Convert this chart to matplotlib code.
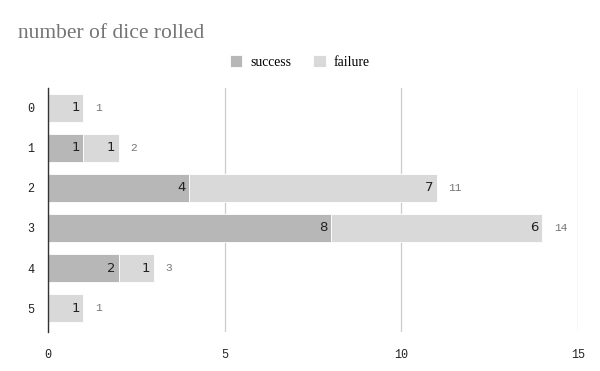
import numpy as np
import matplotlib
matplotlib.use('Agg')
import matplotlib.pyplot as plt

# data
categories = ['0', '1', '2', '3', '4', '5']
success = [0, 1, 4, 8, 2, 0]
failure = [1, 1, 7, 6, 1, 1]
xticks = [0, 5, 10, 15]

c_success = '#b7b7b7'
c_failure = '#d9d9d9'

fig = plt.figure(figsize=(6, 3.71), dpi=100)
ax = fig.add_axes([0.08, 0.105, 0.883, 0.658])

y = np.arange(len(categories))
succ = np.array(success)
fail = np.array(failure)

bar_h = 0.68
b1 = ax.barh(y, succ, height=bar_h, color=c_success, label='success', edgecolor='white', linewidth=0.6)
b2 = ax.barh(y, fail, left=succ, height=bar_h, color=c_failure, label='failure', edgecolor='white', linewidth=0.6)

# value labels inside the segments, totals after the bar
for yi, s, f in zip(y, succ, fail):
    if s > 0:
        ax.text(s - 0.1, yi, str(s), ha='right', va='center', fontsize=9.5, color='#222222', family='DejaVu Sans')
    if f > 0:
        ax.text(s + f - 0.1, yi, str(f), ha='right', va='center', fontsize=9.5, color='#222222', family='DejaVu Sans')
    ax.text(s + f + 0.33, yi, str(s + f), ha='left', va='center', fontsize=8, color='#757575', family='Liberation Mono')

ax.set_ylim(len(categories) - 0.4, -0.5)
ax.set_xlim(0, 15)
ax.set_yticks(y)
ax.set_yticklabels(categories, family='Liberation Mono', fontsize=8.5, color='#222222')
ax.set_xticks(xticks)
ax.set_xticklabels([str(t) for t in xticks], family='Liberation Mono', fontsize=8.5, color='#222222')
ax.tick_params(length=0, pad=10)
ax.tick_params(axis='x', pad=12)

ax.grid(axis='x', color='#cccccc', linewidth=0.9)
ax.set_axisbelow(True)
for side in ['top', 'right', 'bottom']:
    ax.spines[side].set_visible(False)
ax.spines['left'].set_color('#333333')
ax.spines['left'].set_linewidth(1)
ax.spines['left'].set_zorder(5)

fig.text(0.03, 0.91, 'number of dice rolled', fontsize=15.5, color='#757575', family='Liberation Serif', va='center')

fig.legend(handles=[b1, b2], loc='center', bbox_to_anchor=(0.5, 0.833), ncol=2, frameon=False,
           prop={'family': 'Liberation Serif', 'size': 9.8}, handlelength=0.9, handleheight=0.9,
           columnspacing=1.6, handletextpad=0.6)

fig.savefig('out.png', dpi=100, facecolor='white')
